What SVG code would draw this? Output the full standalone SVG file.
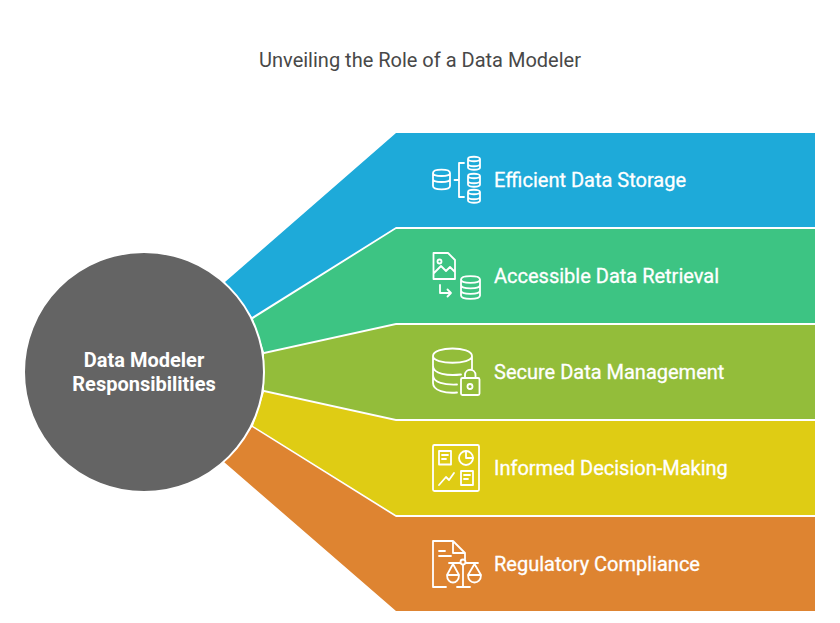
<svg xmlns="http://www.w3.org/2000/svg" width="840" height="623" viewBox="0 0 840 623">
<style>
.t{font-family:Roboto,"Liberation Sans",sans-serif;font-size:20px;font-weight:400;fill:#fff;stroke:#fff;stroke-width:.3}
.c{font-family:Roboto,"Liberation Sans",sans-serif;font-size:20px;font-weight:700;fill:#fff;text-anchor:middle}
.h{font-family:Roboto,"Liberation Sans",sans-serif;font-size:20px;font-weight:400;fill:#484848;text-anchor:middle}
.i{fill:none;stroke:#fff;stroke-width:1.800;stroke-linecap:round;stroke-linejoin:round}
</style>
<defs>
<path id="db" d="M-8.500-6.500C-8.500-11 8.500-11 8.500-6.500V6.500C8.500 11-8.500 11-8.500 6.500Z M-8.500-6.500C-8.500-2.500 8.500-2.500 8.500-6.500 M-8.500-.5C-8.500 3.500 8.500 3.500 8.500-.5"/>
<path id="dbs" d="M-6-4.500C-6-7.500 6-7.500 6-4.500V4C6 7-6 7-6 4Z M-6-4.500C-6-1.500 6-1.500 6-4.500 M-6 .5C-6 3.500 6 3.500 6 .5"/>
</defs>
<text class="h" x="420" y="66.500">Unveiling the Role of a Data Modeler</text>
<g id="node-storage">
<path d="M396 133H815V227H396L252 317L225 282Z" fill="#1eaad9"/>
<g class="i"><use href="#db" transform="translate(441.500 179.500)"/><use href="#dbs" transform="translate(474 163.500)"/><use href="#dbs" transform="translate(474 180.500)"/><use href="#dbs" transform="translate(474 196.500)"/><path d="M454.500 180H459M464 163H459V197H464"/></g>
<text class="t" x="494" y="187">Efficient Data Storage</text>
</g>
<g id="node-retrieval">
<path d="M396 229H815V323H396L264 352L253 319Z" fill="#3dc483"/>
<g class="i"><path d="M433.500 253H448L455 260V279H433.500Z M434 273L441 266L446 271L450 267L455 272"/><circle cx="439.500" cy="261.500" r="2"/><path d="M440 285V293H451M447.500 289.500L451 293L447.500 296.500"/><path d="M461 279.500C461 275 480 275 480 279.500V295.500C480 300 461 300 461 295.500Z M461 279.500C461 284 480 284 480 279.500 M461 285C461 289.500 480 289.500 480 285 M461 290.500C461 295 480 295 480 290.500"/></g>
<text class="t" x="494" y="283">Accessible Data Retrieval</text>
</g>
<g id="node-security">
<path d="M396 325H815V419H396L264 390V354Z" fill="#93bd3a"/>
<g class="i"><path d="M472 369V356C472 346 433 346 433 356V383C433 391 446 393.500 457 392.500M433 356C433 365 472 365 472 356M433 366C433 374 448 376 461 374.500M433 375C433 383 445 385 457 384.500"/><rect x="461" y="378" width="18.500" height="17" rx="1.500"/><path d="M465 378V375C465 368 475.500 368 475.500 375V378"/><circle cx="470" cy="386.500" r="2.500"/></g>
<text class="t" x="494" y="379">Secure Data Management</text>
</g>
<g id="node-decision">
<path d="M396 421H815V515H396L253 426L264 392Z" fill="#dfcc14"/>
<g class="i"><rect x="433" y="445" width="46" height="46" rx="1.500"/><rect x="439" y="451" width="12" height="13.500"/><path d="M442 455H448M442 459H446"/><circle cx="466" cy="458" r="7"/><path d="M466 451V458H473"/><path d="M439 485L446 477L449 480L454 473"/><rect x="461" y="471" width="12" height="14"/><path d="M464 475H470M464 479H468"/></g>
<text class="t" x="494" y="475">Informed Decision-Making</text>
</g>
<g id="node-compliance">
<path d="M396 517H815V611H396L224 462L252 427Z" fill="#de8431"/>
<g class="i"><path d="M446 587H433V541H453L465 553V559M453 541V553H465M439 551H445M439 556H451"/><circle cx="463" cy="562" r="2.500"/><path d="M463 565V587M457 587H470M449 563H460.500M465.500 563H478M453 564L447 575C447 585 459 585 459 575ZM474.500 564L468 575C468 585 481 585 481 575Z M447 575H459 M468 575H481"/></g>
<text class="t" x="494" y="571">Regulatory Compliance</text>
</g>
<g id="connectors"></g>
<g id="node-center">
<circle cx="144" cy="372" r="120" fill="#646464" stroke="#fff" stroke-width="2"/>
<text class="c" x="144" y="367">Data Modeler</text>
<text class="c" x="144" y="391">Responsibilities</text>
</g>
</svg>
